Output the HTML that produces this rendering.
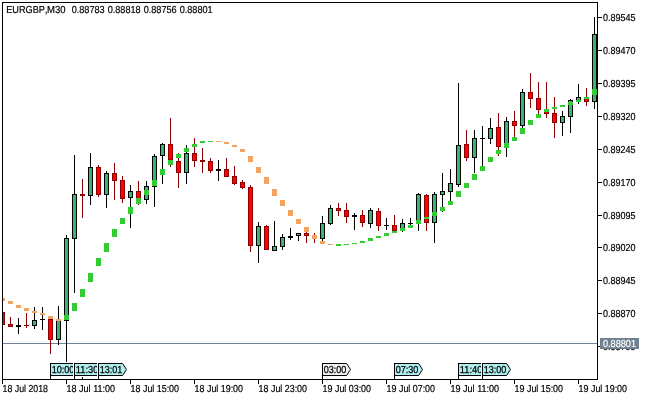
<!DOCTYPE html>
<html><head><meta charset="utf-8"><title>EURGBP,M30</title>
<style>
html,body{margin:0;padding:0;background:#fff;}
body{width:650px;height:400px;overflow:hidden;}
svg{display:block;}
svg{will-change:transform;opacity:0.999;}
text{font-family:"Liberation Sans",sans-serif;font-size:10.1px;fill:#000;stroke:#000;stroke-width:0.2px;text-rendering:geometricPrecision;}
</style></head><body>
<svg width="650" height="400" viewBox="0 0 650 400">
<rect width="650" height="400" fill="#fff"/>
<clipPath id="chart"><rect x="3" y="3" width="594" height="376"/></clipPath>
<g shape-rendering="crispEdges" clip-path="url(#chart)">
<rect x="3" y="343" width="594" height="1" fill="#738499"/>
<rect x="2" y="312" width="1" height="13" fill="#8b0000"/>
<rect x="0" y="312" width="5" height="13" fill="#8b0000"/>
<rect x="1" y="313" width="3" height="11" fill="#ff0000"/>
<rect x="10" y="317" width="1" height="10" fill="#8b0000"/>
<rect x="8" y="324" width="5" height="3" fill="#8b0000"/>
<rect x="9" y="325" width="3" height="1" fill="#ff0000"/>
<rect x="18" y="318" width="1" height="16" fill="#000"/>
<rect x="16" y="325" width="5" height="2" fill="#000"/>
<rect x="26" y="313" width="1" height="15" fill="#8b0000"/>
<rect x="24" y="325" width="5" height="1" fill="#8b0000"/>
<rect x="34" y="307" width="1" height="22" fill="#000"/>
<rect x="32" y="320" width="5" height="6" fill="#000"/>
<rect x="33" y="321" width="3" height="4" fill="#3cb371"/>
<rect x="42" y="307" width="1" height="23" fill="#000"/>
<rect x="40" y="319" width="5" height="1" fill="#000"/>
<rect x="50" y="317" width="1" height="37" fill="#8b0000"/>
<rect x="48" y="319" width="5" height="21" fill="#8b0000"/>
<rect x="49" y="320" width="3" height="19" fill="#ff0000"/>
<rect x="58" y="306" width="1" height="39" fill="#000"/>
<rect x="56" y="320" width="5" height="20" fill="#000"/>
<rect x="57" y="321" width="3" height="18" fill="#3cb371"/>
<rect x="66" y="235" width="1" height="127" fill="#000"/>
<rect x="64" y="238" width="5" height="83" fill="#000"/>
<rect x="65" y="239" width="3" height="81" fill="#3cb371"/>
<rect x="74" y="155" width="1" height="138" fill="#000"/>
<rect x="72" y="194" width="5" height="45" fill="#000"/>
<rect x="73" y="195" width="3" height="43" fill="#3cb371"/>
<rect x="82" y="179" width="1" height="39" fill="#8b0000"/>
<rect x="80" y="194" width="5" height="2" fill="#8b0000"/>
<rect x="90" y="153" width="1" height="52" fill="#000"/>
<rect x="88" y="167" width="5" height="29" fill="#000"/>
<rect x="89" y="168" width="3" height="27" fill="#3cb371"/>
<rect x="98" y="165" width="1" height="32" fill="#8b0000"/>
<rect x="96" y="167" width="5" height="28" fill="#8b0000"/>
<rect x="97" y="168" width="3" height="26" fill="#ff0000"/>
<rect x="106" y="171" width="1" height="37" fill="#000"/>
<rect x="104" y="173" width="5" height="22" fill="#000"/>
<rect x="105" y="174" width="3" height="20" fill="#3cb371"/>
<rect x="114" y="163" width="1" height="37" fill="#8b0000"/>
<rect x="112" y="173" width="5" height="8" fill="#8b0000"/>
<rect x="113" y="174" width="3" height="6" fill="#ff0000"/>
<rect x="122" y="176" width="1" height="27" fill="#8b0000"/>
<rect x="120" y="180" width="5" height="19" fill="#8b0000"/>
<rect x="121" y="181" width="3" height="17" fill="#ff0000"/>
<rect x="130" y="185" width="1" height="43" fill="#000"/>
<rect x="128" y="191" width="5" height="7" fill="#000"/>
<rect x="129" y="192" width="3" height="5" fill="#3cb371"/>
<rect x="138" y="181" width="1" height="24" fill="#8b0000"/>
<rect x="136" y="191" width="5" height="8" fill="#8b0000"/>
<rect x="137" y="192" width="3" height="6" fill="#ff0000"/>
<rect x="146" y="181" width="1" height="23" fill="#000"/>
<rect x="144" y="186" width="5" height="14" fill="#000"/>
<rect x="145" y="187" width="3" height="12" fill="#3cb371"/>
<rect x="154" y="154" width="1" height="53" fill="#000"/>
<rect x="152" y="156" width="5" height="31" fill="#000"/>
<rect x="153" y="157" width="3" height="29" fill="#3cb371"/>
<rect x="162" y="143" width="1" height="41" fill="#000"/>
<rect x="160" y="144" width="5" height="12" fill="#000"/>
<rect x="161" y="145" width="3" height="10" fill="#3cb371"/>
<rect x="170" y="118" width="1" height="49" fill="#8b0000"/>
<rect x="168" y="144" width="5" height="16" fill="#8b0000"/>
<rect x="169" y="145" width="3" height="14" fill="#ff0000"/>
<rect x="178" y="153" width="1" height="35" fill="#8b0000"/>
<rect x="176" y="161" width="5" height="12" fill="#8b0000"/>
<rect x="177" y="162" width="3" height="10" fill="#ff0000"/>
<rect x="186" y="145" width="1" height="39" fill="#000"/>
<rect x="184" y="153" width="5" height="20" fill="#000"/>
<rect x="185" y="154" width="3" height="18" fill="#3cb371"/>
<rect x="194" y="138" width="1" height="29" fill="#8b0000"/>
<rect x="192" y="153" width="5" height="8" fill="#8b0000"/>
<rect x="193" y="154" width="3" height="6" fill="#ff0000"/>
<rect x="202" y="148" width="1" height="25" fill="#8b0000"/>
<rect x="200" y="160" width="5" height="2" fill="#8b0000"/>
<rect x="210" y="158" width="1" height="15" fill="#8b0000"/>
<rect x="208" y="161" width="5" height="10" fill="#8b0000"/>
<rect x="209" y="162" width="3" height="8" fill="#ff0000"/>
<rect x="218" y="160" width="1" height="21" fill="#000"/>
<rect x="216" y="169" width="5" height="2" fill="#000"/>
<rect x="226" y="158" width="1" height="19" fill="#8b0000"/>
<rect x="224" y="169" width="5" height="8" fill="#8b0000"/>
<rect x="225" y="170" width="3" height="6" fill="#ff0000"/>
<rect x="234" y="166" width="1" height="19" fill="#8b0000"/>
<rect x="232" y="176" width="5" height="8" fill="#8b0000"/>
<rect x="233" y="177" width="3" height="6" fill="#ff0000"/>
<rect x="242" y="180" width="1" height="9" fill="#8b0000"/>
<rect x="240" y="182" width="5" height="6" fill="#8b0000"/>
<rect x="241" y="183" width="3" height="4" fill="#ff0000"/>
<rect x="250" y="185" width="1" height="67" fill="#8b0000"/>
<rect x="248" y="187" width="5" height="59" fill="#8b0000"/>
<rect x="249" y="188" width="3" height="57" fill="#ff0000"/>
<rect x="258" y="222" width="1" height="41" fill="#000"/>
<rect x="256" y="226" width="5" height="20" fill="#000"/>
<rect x="257" y="227" width="3" height="18" fill="#3cb371"/>
<rect x="266" y="225" width="1" height="25" fill="#8b0000"/>
<rect x="264" y="226" width="5" height="24" fill="#8b0000"/>
<rect x="265" y="227" width="3" height="22" fill="#ff0000"/>
<rect x="274" y="221" width="1" height="30" fill="#000"/>
<rect x="272" y="246" width="5" height="5" fill="#000"/>
<rect x="273" y="247" width="3" height="3" fill="#3cb371"/>
<rect x="282" y="234" width="1" height="16" fill="#000"/>
<rect x="280" y="237" width="5" height="10" fill="#000"/>
<rect x="281" y="238" width="3" height="8" fill="#3cb371"/>
<rect x="290" y="228" width="1" height="12" fill="#000"/>
<rect x="288" y="236" width="5" height="2" fill="#000"/>
<rect x="298" y="233" width="1" height="8" fill="#000"/>
<rect x="296" y="233" width="5" height="3" fill="#000"/>
<rect x="297" y="234" width="3" height="1" fill="#3cb371"/>
<rect x="306" y="232" width="1" height="11" fill="#8b0000"/>
<rect x="304" y="233" width="5" height="3" fill="#8b0000"/>
<rect x="305" y="234" width="3" height="1" fill="#ff0000"/>
<rect x="314" y="233" width="1" height="10" fill="#8b0000"/>
<rect x="312" y="237" width="5" height="1" fill="#8b0000"/>
<rect x="322" y="216" width="1" height="25" fill="#000"/>
<rect x="320" y="223" width="5" height="16" fill="#000"/>
<rect x="321" y="224" width="3" height="14" fill="#3cb371"/>
<rect x="330" y="205" width="1" height="20" fill="#000"/>
<rect x="328" y="208" width="5" height="16" fill="#000"/>
<rect x="329" y="209" width="3" height="14" fill="#3cb371"/>
<rect x="338" y="203" width="1" height="13" fill="#8b0000"/>
<rect x="336" y="208" width="5" height="3" fill="#8b0000"/>
<rect x="337" y="209" width="3" height="1" fill="#ff0000"/>
<rect x="346" y="203" width="1" height="20" fill="#8b0000"/>
<rect x="344" y="210" width="5" height="7" fill="#8b0000"/>
<rect x="345" y="211" width="3" height="5" fill="#ff0000"/>
<rect x="354" y="213" width="1" height="17" fill="#000"/>
<rect x="352" y="215" width="5" height="2" fill="#000"/>
<rect x="362" y="210" width="1" height="17" fill="#8b0000"/>
<rect x="360" y="215" width="5" height="8" fill="#8b0000"/>
<rect x="361" y="216" width="3" height="6" fill="#ff0000"/>
<rect x="370" y="208" width="1" height="20" fill="#000"/>
<rect x="368" y="210" width="5" height="14" fill="#000"/>
<rect x="369" y="211" width="3" height="12" fill="#3cb371"/>
<rect x="378" y="208" width="1" height="23" fill="#8b0000"/>
<rect x="376" y="211" width="5" height="15" fill="#8b0000"/>
<rect x="377" y="212" width="3" height="13" fill="#ff0000"/>
<rect x="386" y="218" width="1" height="12" fill="#000"/>
<rect x="384" y="225" width="5" height="1" fill="#000"/>
<rect x="394" y="215" width="1" height="16" fill="#8b0000"/>
<rect x="392" y="225" width="5" height="6" fill="#8b0000"/>
<rect x="393" y="226" width="3" height="4" fill="#ff0000"/>
<rect x="402" y="219" width="1" height="13" fill="#000"/>
<rect x="400" y="223" width="5" height="6" fill="#000"/>
<rect x="401" y="224" width="3" height="4" fill="#3cb371"/>
<rect x="410" y="218" width="1" height="7" fill="#000"/>
<rect x="408" y="223" width="5" height="1" fill="#000"/>
<rect x="418" y="193" width="1" height="38" fill="#000"/>
<rect x="416" y="194" width="5" height="30" fill="#000"/>
<rect x="417" y="195" width="3" height="28" fill="#3cb371"/>
<rect x="426" y="194" width="1" height="37" fill="#8b0000"/>
<rect x="424" y="195" width="5" height="28" fill="#8b0000"/>
<rect x="425" y="196" width="3" height="26" fill="#ff0000"/>
<rect x="434" y="192" width="1" height="51" fill="#000"/>
<rect x="432" y="194" width="5" height="29" fill="#000"/>
<rect x="433" y="195" width="3" height="27" fill="#3cb371"/>
<rect x="442" y="173" width="1" height="39" fill="#000"/>
<rect x="440" y="191" width="5" height="4" fill="#000"/>
<rect x="441" y="192" width="3" height="2" fill="#3cb371"/>
<rect x="450" y="169" width="1" height="32" fill="#000"/>
<rect x="448" y="183" width="5" height="9" fill="#000"/>
<rect x="449" y="184" width="3" height="7" fill="#3cb371"/>
<rect x="458" y="83" width="1" height="104" fill="#000"/>
<rect x="456" y="145" width="5" height="40" fill="#000"/>
<rect x="457" y="146" width="3" height="38" fill="#3cb371"/>
<rect x="466" y="130" width="1" height="31" fill="#8b0000"/>
<rect x="464" y="144" width="5" height="14" fill="#8b0000"/>
<rect x="465" y="145" width="3" height="12" fill="#ff0000"/>
<rect x="474" y="130" width="1" height="43" fill="#000"/>
<rect x="472" y="138" width="5" height="20" fill="#000"/>
<rect x="473" y="139" width="3" height="18" fill="#3cb371"/>
<rect x="482" y="126" width="1" height="40" fill="#000"/>
<rect x="480" y="138" width="5" height="1" fill="#000"/>
<rect x="490" y="118" width="1" height="26" fill="#000"/>
<rect x="488" y="128" width="5" height="11" fill="#000"/>
<rect x="489" y="129" width="3" height="9" fill="#3cb371"/>
<rect x="498" y="113" width="1" height="43" fill="#8b0000"/>
<rect x="496" y="127" width="5" height="20" fill="#8b0000"/>
<rect x="497" y="128" width="3" height="18" fill="#ff0000"/>
<rect x="506" y="117" width="1" height="40" fill="#000"/>
<rect x="504" y="121" width="5" height="23" fill="#000"/>
<rect x="505" y="122" width="3" height="21" fill="#3cb371"/>
<rect x="514" y="111" width="1" height="26" fill="#8b0000"/>
<rect x="512" y="121" width="5" height="5" fill="#8b0000"/>
<rect x="513" y="122" width="3" height="3" fill="#ff0000"/>
<rect x="522" y="89" width="1" height="39" fill="#000"/>
<rect x="520" y="92" width="5" height="34" fill="#000"/>
<rect x="521" y="93" width="3" height="32" fill="#3cb371"/>
<rect x="530" y="73" width="1" height="35" fill="#8b0000"/>
<rect x="528" y="92" width="5" height="7" fill="#8b0000"/>
<rect x="529" y="93" width="3" height="5" fill="#ff0000"/>
<rect x="538" y="82" width="1" height="32" fill="#8b0000"/>
<rect x="536" y="98" width="5" height="12" fill="#8b0000"/>
<rect x="537" y="99" width="3" height="10" fill="#ff0000"/>
<rect x="546" y="82" width="1" height="36" fill="#8b0000"/>
<rect x="544" y="111" width="5" height="3" fill="#8b0000"/>
<rect x="545" y="112" width="3" height="1" fill="#ff0000"/>
<rect x="554" y="97" width="1" height="41" fill="#8b0000"/>
<rect x="552" y="113" width="5" height="10" fill="#8b0000"/>
<rect x="553" y="114" width="3" height="8" fill="#ff0000"/>
<rect x="562" y="111" width="1" height="25" fill="#000"/>
<rect x="560" y="116" width="5" height="7" fill="#000"/>
<rect x="561" y="117" width="3" height="5" fill="#3cb371"/>
<rect x="570" y="99" width="1" height="34" fill="#000"/>
<rect x="568" y="100" width="5" height="17" fill="#000"/>
<rect x="569" y="101" width="3" height="15" fill="#3cb371"/>
<rect x="578" y="84" width="1" height="20" fill="#000"/>
<rect x="576" y="97" width="5" height="5" fill="#000"/>
<rect x="577" y="98" width="3" height="3" fill="#3cb371"/>
<rect x="586" y="88" width="1" height="18" fill="#8b0000"/>
<rect x="584" y="98" width="5" height="4" fill="#8b0000"/>
<rect x="585" y="99" width="3" height="2" fill="#ff0000"/>
<rect x="594" y="17" width="1" height="92" fill="#000"/>
<rect x="592" y="34" width="5" height="68" fill="#000"/>
<rect x="593" y="35" width="3" height="66" fill="#3cb371"/>
<rect x="0" y="298" width="5" height="3" fill="#f4a460"/>
<rect x="8" y="301" width="5" height="3" fill="#f4a460"/>
<rect x="16" y="305" width="5" height="3" fill="#f4a460"/>
<rect x="24" y="308" width="5" height="3" fill="#f4a460"/>
<rect x="32" y="311" width="5" height="2" fill="#f4a460"/>
<rect x="40" y="313" width="5" height="2" fill="#f4a460"/>
<rect x="48" y="316" width="5" height="3" fill="#f4a460"/>
<rect x="56" y="319" width="5" height="2" fill="#f4a460"/>
<rect x="64" y="315" width="5" height="5" fill="#32cd32"/>
<rect x="72" y="303" width="5" height="8" fill="#32cd32"/>
<rect x="80" y="289" width="5" height="8" fill="#32cd32"/>
<rect x="88" y="273" width="5" height="9" fill="#32cd32"/>
<rect x="96" y="258" width="5" height="8" fill="#32cd32"/>
<rect x="104" y="243" width="5" height="9" fill="#32cd32"/>
<rect x="112" y="229" width="5" height="8" fill="#32cd32"/>
<rect x="120" y="218" width="5" height="6" fill="#32cd32"/>
<rect x="128" y="207" width="5" height="7" fill="#32cd32"/>
<rect x="136" y="198" width="5" height="6" fill="#32cd32"/>
<rect x="144" y="190" width="5" height="5" fill="#32cd32"/>
<rect x="152" y="180" width="5" height="6" fill="#32cd32"/>
<rect x="160" y="169" width="5" height="6" fill="#32cd32"/>
<rect x="168" y="160" width="5" height="5" fill="#32cd32"/>
<rect x="176" y="154" width="5" height="4" fill="#32cd32"/>
<rect x="184" y="148" width="5" height="4" fill="#32cd32"/>
<rect x="192" y="144" width="5" height="3" fill="#32cd32"/>
<rect x="200" y="141" width="5" height="2" fill="#32cd32"/>
<rect x="208" y="141" width="5" height="1" fill="#32cd32"/>
<rect x="216" y="141" width="5" height="1" fill="#f4a460"/>
<rect x="224" y="142" width="5" height="2" fill="#f4a460"/>
<rect x="232" y="145" width="5" height="2" fill="#f4a460"/>
<rect x="240" y="149" width="5" height="3" fill="#f4a460"/>
<rect x="248" y="156" width="5" height="6" fill="#f4a460"/>
<rect x="256" y="167" width="5" height="6" fill="#f4a460"/>
<rect x="264" y="177" width="5" height="7" fill="#f4a460"/>
<rect x="272" y="189" width="5" height="7" fill="#f4a460"/>
<rect x="280" y="200" width="5" height="6" fill="#f4a460"/>
<rect x="288" y="210" width="5" height="6" fill="#f4a460"/>
<rect x="296" y="219" width="5" height="5" fill="#f4a460"/>
<rect x="304" y="227" width="5" height="5" fill="#f4a460"/>
<rect x="312" y="235" width="5" height="4" fill="#f4a460"/>
<rect x="320" y="241" width="5" height="3" fill="#f4a460"/>
<rect x="328" y="244" width="5" height="1" fill="#f4a460"/>
<rect x="336" y="244" width="5" height="2" fill="#32cd32"/>
<rect x="344" y="244" width="5" height="1" fill="#32cd32"/>
<rect x="352" y="243" width="5" height="1" fill="#32cd32"/>
<rect x="360" y="241" width="5" height="2" fill="#32cd32"/>
<rect x="368" y="238" width="5" height="3" fill="#32cd32"/>
<rect x="376" y="236" width="5" height="2" fill="#32cd32"/>
<rect x="384" y="233" width="5" height="3" fill="#32cd32"/>
<rect x="392" y="231" width="5" height="2" fill="#32cd32"/>
<rect x="400" y="228" width="5" height="3" fill="#32cd32"/>
<rect x="408" y="225" width="5" height="3" fill="#32cd32"/>
<rect x="416" y="220" width="5" height="4" fill="#32cd32"/>
<rect x="424" y="217" width="5" height="2" fill="#32cd32"/>
<rect x="432" y="212" width="5" height="4" fill="#32cd32"/>
<rect x="440" y="207" width="5" height="4" fill="#32cd32"/>
<rect x="448" y="201" width="5" height="4" fill="#32cd32"/>
<rect x="456" y="191" width="5" height="6" fill="#32cd32"/>
<rect x="464" y="183" width="5" height="5" fill="#32cd32"/>
<rect x="472" y="174" width="5" height="6" fill="#32cd32"/>
<rect x="480" y="166" width="5" height="5" fill="#32cd32"/>
<rect x="488" y="157" width="5" height="5" fill="#32cd32"/>
<rect x="496" y="150" width="5" height="4" fill="#32cd32"/>
<rect x="504" y="143" width="5" height="5" fill="#32cd32"/>
<rect x="512" y="137" width="5" height="4" fill="#32cd32"/>
<rect x="520" y="128" width="5" height="6" fill="#32cd32"/>
<rect x="528" y="120" width="5" height="5" fill="#32cd32"/>
<rect x="536" y="114" width="5" height="4" fill="#32cd32"/>
<rect x="544" y="109" width="5" height="3" fill="#32cd32"/>
<rect x="552" y="107" width="5" height="2" fill="#32cd32"/>
<rect x="560" y="105" width="5" height="2" fill="#32cd32"/>
<rect x="568" y="102" width="5" height="3" fill="#32cd32"/>
<rect x="576" y="100" width="5" height="2" fill="#32cd32"/>
<rect x="584" y="97" width="5" height="2" fill="#32cd32"/>
<rect x="592" y="89" width="5" height="6" fill="#32cd32"/>
</g>
<g shape-rendering="crispEdges">
<rect x="2" y="2" width="596" height="1" fill="#000"/>
<rect x="2" y="2" width="1" height="382" fill="#000"/>
<rect x="597" y="2" width="1" height="378" fill="#000"/>
<rect x="2" y="379" width="596" height="1" fill="#000"/>
<rect x="598" y="17" width="4" height="1" fill="#000"/>
<rect x="598" y="50" width="4" height="1" fill="#000"/>
<rect x="598" y="83" width="4" height="1" fill="#000"/>
<rect x="598" y="116" width="4" height="1" fill="#000"/>
<rect x="598" y="149" width="4" height="1" fill="#000"/>
<rect x="598" y="182" width="4" height="1" fill="#000"/>
<rect x="598" y="215" width="4" height="1" fill="#000"/>
<rect x="598" y="247" width="4" height="1" fill="#000"/>
<rect x="598" y="280" width="4" height="1" fill="#000"/>
<rect x="598" y="313" width="4" height="1" fill="#000"/>
<rect x="598" y="346" width="4" height="1" fill="#000"/>
<rect x="2" y="380" width="1" height="4" fill="#000"/>
<rect x="66" y="380" width="1" height="4" fill="#000"/>
<rect x="130" y="380" width="1" height="4" fill="#000"/>
<rect x="194" y="380" width="1" height="4" fill="#000"/>
<rect x="258" y="380" width="1" height="4" fill="#000"/>
<rect x="322" y="380" width="1" height="4" fill="#000"/>
<rect x="386" y="380" width="1" height="4" fill="#000"/>
<rect x="450" y="380" width="1" height="4" fill="#000"/>
<rect x="514" y="380" width="1" height="4" fill="#000"/>
<rect x="578" y="380" width="1" height="4" fill="#000"/>
<rect x="82" y="377" width="1" height="2" fill="#000"/>
</g>
<g>
<text x="603" y="21" textLength="32.5" lengthAdjust="spacingAndGlyphs">0.89545</text>
<text x="603" y="54" textLength="32.5" lengthAdjust="spacingAndGlyphs">0.89470</text>
<text x="603" y="87" textLength="32.5" lengthAdjust="spacingAndGlyphs">0.89395</text>
<text x="603" y="120" textLength="32.5" lengthAdjust="spacingAndGlyphs">0.89320</text>
<text x="603" y="153" textLength="32.5" lengthAdjust="spacingAndGlyphs">0.89245</text>
<text x="603" y="186" textLength="32.5" lengthAdjust="spacingAndGlyphs">0.89170</text>
<text x="603" y="219" textLength="32.5" lengthAdjust="spacingAndGlyphs">0.89095</text>
<text x="603" y="251" textLength="32.5" lengthAdjust="spacingAndGlyphs">0.89020</text>
<text x="603" y="284" textLength="32.5" lengthAdjust="spacingAndGlyphs">0.88945</text>
<text x="603" y="317" textLength="32.5" lengthAdjust="spacingAndGlyphs">0.88870</text>
<text x="603" y="349.7" textLength="32.5" lengthAdjust="spacingAndGlyphs">0.88795</text>
<text x="2.6" y="392" textLength="45.4" lengthAdjust="spacingAndGlyphs">18 Jul 2018</text>
<text x="66.6" y="392" textLength="48.4" lengthAdjust="spacingAndGlyphs">18 Jul 11:00</text>
<text x="130.6" y="392" textLength="48.4" lengthAdjust="spacingAndGlyphs">18 Jul 15:00</text>
<text x="194.6" y="392" textLength="48.4" lengthAdjust="spacingAndGlyphs">18 Jul 19:00</text>
<text x="258.6" y="392" textLength="48.4" lengthAdjust="spacingAndGlyphs">18 Jul 23:00</text>
<text x="322.6" y="392" textLength="48.4" lengthAdjust="spacingAndGlyphs">19 Jul 03:00</text>
<text x="386.6" y="392" textLength="48.4" lengthAdjust="spacingAndGlyphs">19 Jul 07:00</text>
<text x="450.6" y="392" textLength="48.4" lengthAdjust="spacingAndGlyphs">19 Jul 11:00</text>
<text x="514.6" y="392" textLength="48.4" lengthAdjust="spacingAndGlyphs">19 Jul 15:00</text>
<text x="578.6" y="392" textLength="48.4" lengthAdjust="spacingAndGlyphs">19 Jul 19:00</text>
<text x="6.25" y="13" textLength="38.6" lengthAdjust="spacingAndGlyphs">EURGBP</text><text x="44.8" y="13">,</text><text x="47.1" y="13" textLength="18.5" lengthAdjust="spacingAndGlyphs">M30</text><text x="71.7" y="13" textLength="33" lengthAdjust="spacingAndGlyphs">0.88783</text><text x="107.7" y="13" textLength="33" lengthAdjust="spacingAndGlyphs">0.88818</text><text x="143.7" y="13" textLength="33" lengthAdjust="spacingAndGlyphs">0.88756</text><text x="179.7" y="13" textLength="33" lengthAdjust="spacingAndGlyphs">0.88801</text>
</g>
<g>
<clipPath id="c1"><rect x="50" y="360" width="23" height="20"/></clipPath>
<g clip-path="url(#c1)">
<polygon points="50.5,363.5 74.6,363.5 78.5,369.5 74.6,375.5 50.5,375.5" fill="#afeeee" stroke="#000" stroke-width="1" shape-rendering="geometricPrecision"/>
<text x="51.7" y="372.8" style="stroke-width:0.25px" textLength="22.7" lengthAdjust="spacingAndGlyphs">10:00</text>
</g>
<rect x="50" y="363" width="1" height="17" fill="#000"/>
<clipPath id="c2"><rect x="74" y="360" width="23" height="20"/></clipPath>
<g clip-path="url(#c2)">
<polygon points="74.5,363.5 98.6,363.5 102.5,369.5 98.6,375.5 74.5,375.5" fill="#afeeee" stroke="#000" stroke-width="1" shape-rendering="geometricPrecision"/>
<text x="75.7" y="372.8" style="stroke-width:0.25px" textLength="22.7" lengthAdjust="spacingAndGlyphs">11:30</text>
</g>
<rect x="74" y="363" width="1" height="17" fill="#000"/>
<g>
<polygon points="98.5,363.5 122.6,363.5 126.5,369.5 122.6,375.5 98.5,375.5" fill="#afeeee" stroke="#000" stroke-width="1" shape-rendering="geometricPrecision"/>
<text x="99.7" y="372.8" style="stroke-width:0.25px" textLength="22.7" lengthAdjust="spacingAndGlyphs">13:01</text>
</g>
<rect x="98" y="363" width="1" height="17" fill="#000"/>
<g>
<polygon points="322.5,363.5 346.6,363.5 350.5,369.5 346.6,375.5 322.5,375.5" fill="#f0f0f0" stroke="#000" stroke-width="1" shape-rendering="geometricPrecision"/>
<text x="323.7" y="372.8" style="stroke-width:0.25px" textLength="22.7" lengthAdjust="spacingAndGlyphs">03:00</text>
</g>
<rect x="322" y="363" width="1" height="17" fill="#000"/>
<g>
<polygon points="394.5,363.5 418.6,363.5 422.5,369.5 418.6,375.5 394.5,375.5" fill="#afeeee" stroke="#000" stroke-width="1" shape-rendering="geometricPrecision"/>
<text x="395.7" y="372.8" style="stroke-width:0.25px" textLength="22.7" lengthAdjust="spacingAndGlyphs">07:30</text>
</g>
<rect x="394" y="363" width="1" height="17" fill="#000"/>
<clipPath id="c6"><rect x="458" y="360" width="23" height="20"/></clipPath>
<g clip-path="url(#c6)">
<polygon points="458.5,363.5 482.6,363.5 486.5,369.5 482.6,375.5 458.5,375.5" fill="#afeeee" stroke="#000" stroke-width="1" shape-rendering="geometricPrecision"/>
<text x="459.7" y="372.8" style="stroke-width:0.25px" textLength="22.7" lengthAdjust="spacingAndGlyphs">11:40</text>
</g>
<rect x="458" y="363" width="1" height="17" fill="#000"/>
<g>
<polygon points="482.5,363.5 506.6,363.5 510.5,369.5 506.6,375.5 482.5,375.5" fill="#afeeee" stroke="#000" stroke-width="1" shape-rendering="geometricPrecision"/>
<text x="483.7" y="372.8" style="stroke-width:0.25px" textLength="22.7" lengthAdjust="spacingAndGlyphs">13:00</text>
</g>
<rect x="482" y="363" width="1" height="17" fill="#000"/>
</g>
<rect x="600" y="338" width="39" height="11" fill="#708090"/><text x="603" y="347" style="fill:#fff;stroke:#fff" textLength="33" lengthAdjust="spacingAndGlyphs">0.88801</text>
</svg>
</body></html>
